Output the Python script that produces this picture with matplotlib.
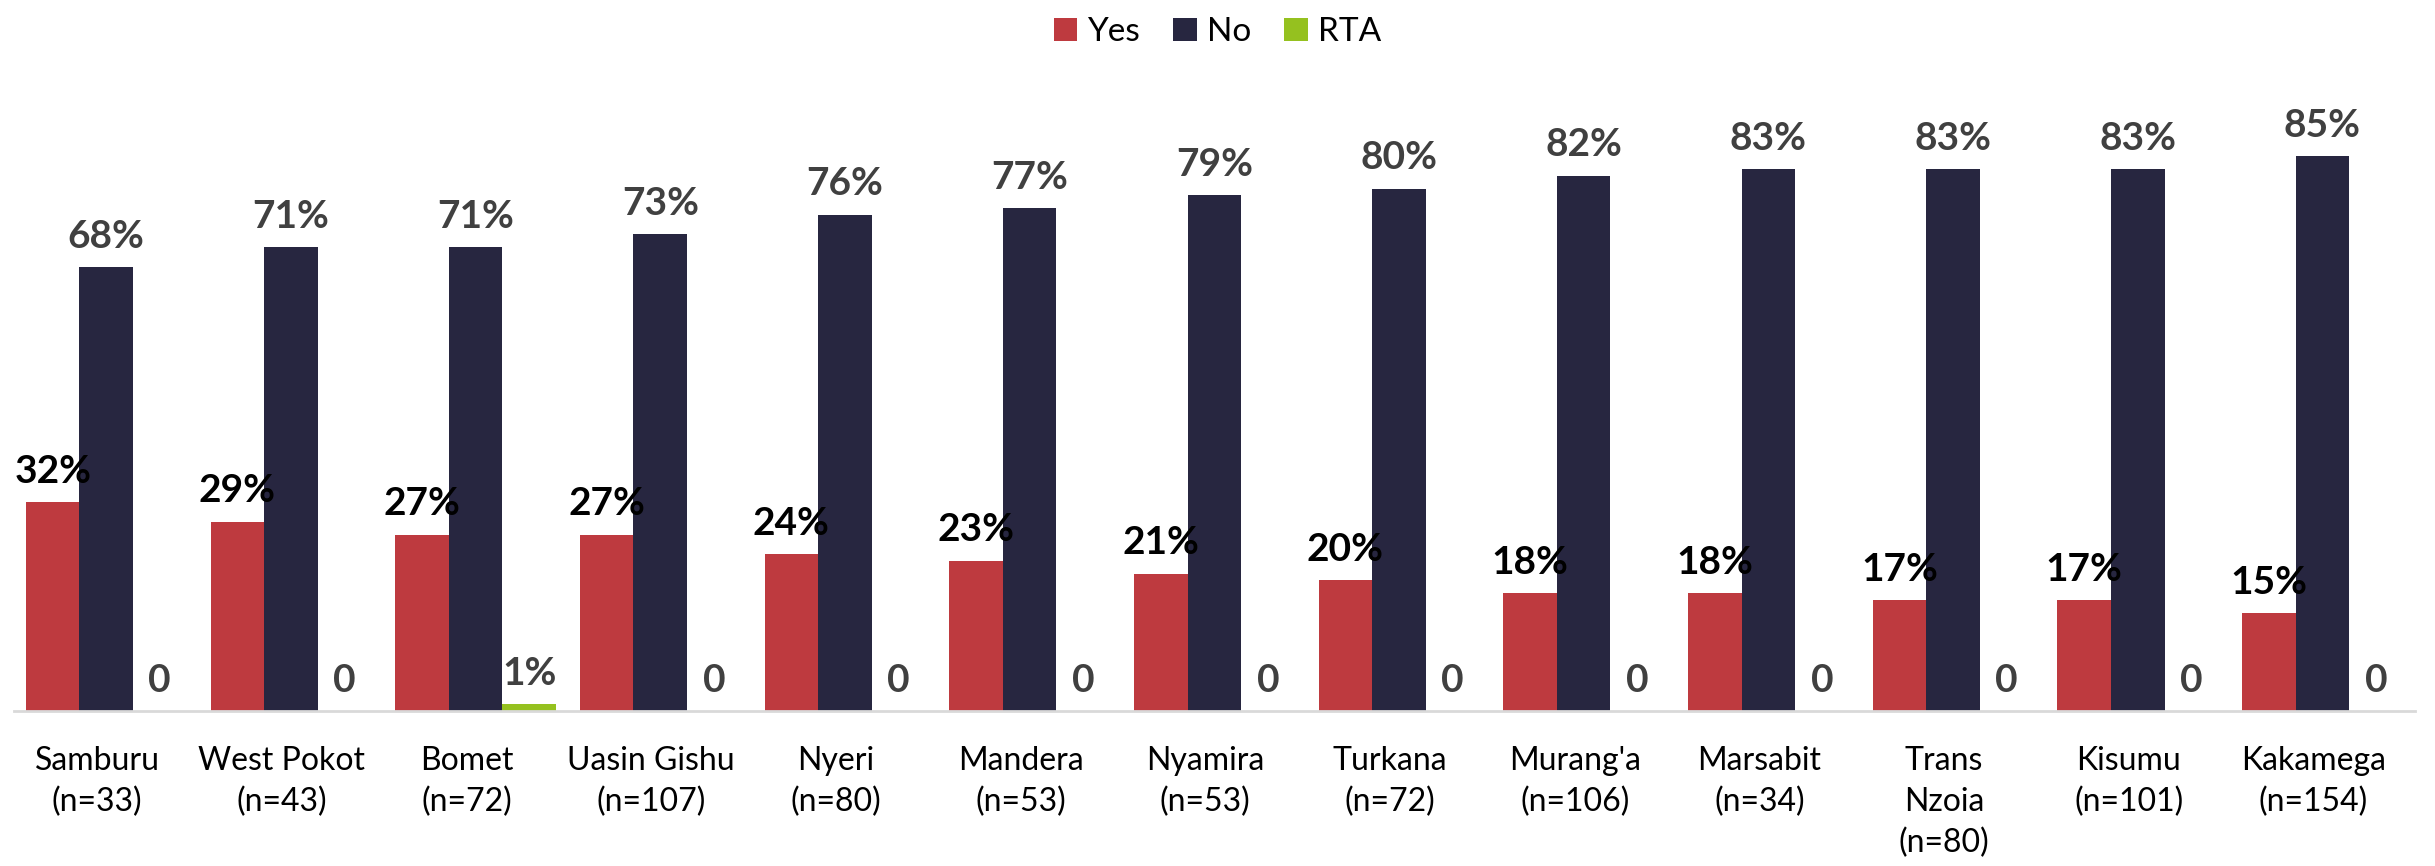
import numpy as np
from matplotlib import pyplot as plt
from matplotlib import transforms

plt.rcParams['font.family'] = ['Lato', 'DejaVu Sans']

# Data
counties = ["Samburu\n(n=33)", "West Pokot\n(n=43)", "Bomet\n(n=72)", "Uasin Gishu\n(n=107)",
            "Nyeri\n(n=80)", "Mandera\n(n=53)", "Nyamira\n(n=53)", "Turkana\n(n=72)",
            "Murang'a\n(n=106)", "Marsabit\n(n=34)", "Trans\nNzoia\n(n=80)", "Kisumu\n(n=101)",
            "Kakamega\n(n=154)"]
yes = [32, 29, 27, 27, 24, 23, 21, 20, 18, 18, 17, 17, 15]
no = [68, 71, 71, 73, 76, 77, 79, 80, 82, 83, 83, 83, 85]
rta = [0, 0, 1, 0, 0, 0, 0, 0, 0, 0, 0, 0, 0]

c_yes = '#be3a3f'
c_no = '#272640'
c_rta = '#95c11f'

fig = plt.figure(figsize=(24.35, 8.66), dpi=100)
ax = fig.add_axes([0.0057, 0.179, 0.986, 0.754])

x = np.arange(len(counties))
w = 0.29
b1 = ax.bar(x - w, yes, w, color=c_yes, label='Yes')
b2 = ax.bar(x, no, w, color=c_no, label='No')
b3 = ax.bar(x + w, rta, w, color=c_rta, label='RTA')

# Value labels
for xi, v in zip(x - w, yes):
    ax.annotate(f'{v}%', (xi, v), xytext=(0, 14), textcoords='offset points',
                ha='center', va='baseline', fontsize=28, fontweight='bold', color='black')
for xi, v in zip(x, no):
    ax.annotate(f'{v}%', (xi, v), xytext=(0, 14), textcoords='offset points',
                ha='center', va='baseline', fontsize=28, fontweight='bold', color='#404040')
for xi, v in zip(x + w, rta):
    lab = f'{v}%' if v else '0'
    ax.annotate(lab, (xi, v), xytext=(0, 14), textcoords='offset points',
                ha='center', va='baseline', fontsize=28, fontweight='bold', color='#404040')

ax.set_xlim(-0.5, len(counties) - 0.5)
ax.set_ylim(0, 100)
ax.set_xticks(x)
ax.set_xticklabels(counties, fontsize=23, linespacing=1.45)
ax.tick_params(axis='x', length=0, pad=25)
shift = transforms.ScaledTranslation(-9 / 100, 0, fig.dpi_scale_trans)
for t in ax.get_xticklabels():
    t.set_transform(t.get_transform() + shift)
ax.set_yticks([])
for s in ['top', 'right', 'left']:
    ax.spines[s].set_visible(False)
ax.spines['bottom'].set_color('#d9d9d9')
ax.spines['bottom'].set_linewidth(2)

fig.legend(handles=[b1, b2, b3], loc='upper center', bbox_to_anchor=(0.5, 1.015), ncol=3,
           frameon=False, fontsize=24, handlelength=0.7, handleheight=0.7,
           handletextpad=0.3, columnspacing=1.0)

plt.savefig('out.png', dpi=100)
plt.close()
